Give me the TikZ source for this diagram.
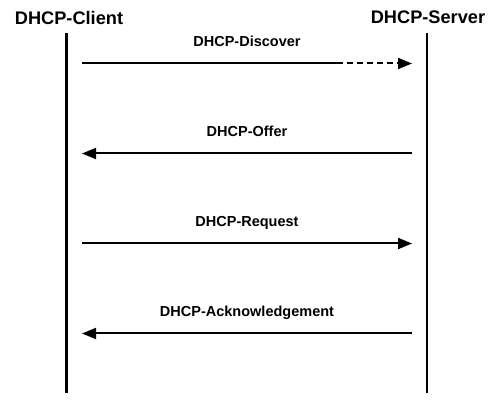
\documentclass[tikz,border=0pt]{standalone}
\usepackage{fontspec}
\setmainfont{Liberation Sans}
\usetikzlibrary{arrows.meta,positioning}
\tikzset{
  party/.style={font=\bfseries\fontsize{18.2}{21}\selectfont,inner sep=0pt,anchor=base},
  msg/.style={font=\bfseries\fontsize{14.5}{17}\selectfont,inner sep=0pt,anchor=base,midway,yshift=16.5pt},
  lifeline/.style={line width=2.4pt},
  arrow/.style={line width=2pt,-{Triangle[length=14pt,width=11pt]}},
  plain/.style={line width=2pt},
  dasharrow/.style={line width=2pt,dash pattern=on 6pt off 4pt,-{Triangle[length=14pt,width=11pt]}}
}
\begin{document}
\begin{tikzpicture}[x=1pt,y=-1pt]
\useasboundingbox (0,0) rectangle (499,414);
% participants
\node[party] (client) at (69,24.5) {DHCP-Client};
\node[party] (server) at (428,23.5) {DHCP-Server};
\coordinate (ctop) at (66.5,33.5);
\coordinate (cbot) at (66.5,393.5);
\coordinate (stop) at (426.7,33.5);
\coordinate (sbot) at (426.7,393.5);
\draw[lifeline](ctop)--(cbot);
\draw[lifeline](stop)--(sbot);
% message ends
\coordinate (c1) at (82,63.5);   \coordinate (d1) at (337,63.5); \coordinate (s1) at (412,63.5);
\coordinate (c2) at (82,153.5);  \coordinate (s2) at (412,153.5);
\coordinate (c3) at (82,243.5);  \coordinate (s3) at (412,243.5);
\coordinate (c4) at (82,333.5);  \coordinate (s4) at (412,333.5);
% messages
\draw[plain](c1)--(d1);
\draw[dasharrow](d1)--(s1);
\path (c1)--(s1) node[msg] (discover) {DHCP-Discover};
\draw[arrow](s2)--node[msg] (offer) {DHCP-Offer}(c2);
\draw[arrow](c3)--node[msg] (request) {DHCP-Request}(s3);
\draw[arrow](s4)--node[msg] (ack) {DHCP-Acknowledgement}(c4);
\end{tikzpicture}
\end{document}
